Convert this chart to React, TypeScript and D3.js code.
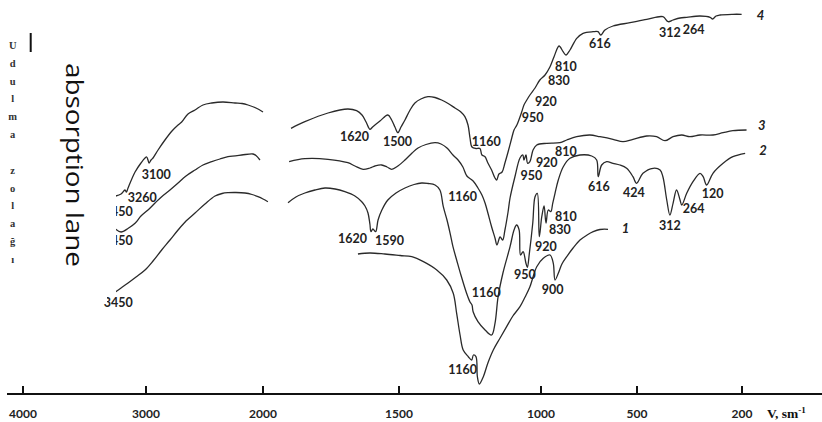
import React from 'react';
import * as d3 from 'd3';

// x axis of the spectrum is drawn with a broken (piecewise) scale
const tickWaves = [4000, 3000, 2000, 1500, 1000, 500, 200];

// [wavenumber, transmission (arb. units)]
const curve4Left = [
  [3246, 19.8], [3203, 20.0], [3171, 20.4], [3159, 20.2], [3146, 20.6], [3089, 22.2], [3041, 23.1],
  [3008, 23.6], [2994, 23.7], [2983, 23.4], [2974, 23.1], [2957, 23.4], [2940, 23.6], [2897, 24.4],
  [2838, 25.4], [2778, 26.3], [2726, 26.9], [2695, 27.2], [2641, 28.0], [2581, 28.4], [2513, 28.9],
  [2438, 29.1], [2342, 29.2], [2239, 29.1], [2179, 29.05], [2128, 28.9], [2060, 28.6], [2000, 28.2],
];
const curve4Right = [
  [1897, 26.57], [1846, 27.23], [1761, 28.1], [1688, 28.5], [1656, 28.33], [1636, 27.9], [1621, 27.2],
  [1607, 26.47], [1596, 26.73], [1570, 27.3], [1541, 27.9], [1527, 27.4], [1515, 26.7], [1504, 26.13],
  [1493, 26.7], [1479, 27.4], [1461, 28.4], [1444, 29.1], [1423, 29.5], [1398, 29.73], [1373, 29.65],
  [1350, 29.4], [1327, 29.05], [1303, 28.6], [1282, 28.2], [1268, 27.73], [1257, 26.9], [1250, 25.6],
  [1243, 24.7], [1229, 24.55], [1215, 24.55], [1208, 23.9], [1197, 23.73], [1187, 23.1], [1174, 22.4],
  [1162, 21.6], [1156, 21.4], [1148, 22.0], [1137, 22.2], [1127, 23.1], [1116, 24.2], [1103, 25.6],
  [1095, 26.4], [1085, 26.9], [1068, 28.2], [1060, 28.9], [1050, 29.4], [1039, 29.9], [1021, 30.6],
  [1004, 31.4], [979, 31.9], [953, 32.73], [932, 33.73], [906, 34.8], [885, 34.23], [870, 33.9],
  [849, 34.4], [814, 35.57], [781, 36.07], [729, 36.23], [703, 36.23], [689, 35.9], [667, 36.4],
  [625, 36.8], [536, 37.13], [472, 37.47], [426, 37.73], [411, 37.23], [397, 37.4], [377, 37.6],
  [358, 37.67], [320, 37.8], [291, 37.67], [284, 37.5], [274, 37.8], [263, 37.9], [226, 37.97], [201, 37.97],
];

const curve3Left = [
  [3246, 16.47], [3203, 16.2], [3144, 16.57], [3089, 17.07], [3041, 17.8], [2983, 18.4], [2923, 19.1],
  [2866, 19.73], [2795, 20.4], [2726, 21.1], [2658, 21.8], [2581, 22.4], [2513, 22.9], [2438, 23.23],
  [2368, 23.5], [2299, 23.73], [2182, 23.9], [2085, 24.0], [2060, 23.85], [2026, 23.4],
];
const curve3Right = [
  [1904, 23.23], [1846, 23.53], [1761, 23.47], [1688, 23.13], [1662, 22.8], [1632, 22.47], [1607, 22.6],
  [1588, 22.8], [1564, 22.9], [1544, 22.7], [1527, 22.47], [1504, 22.8], [1479, 23.4], [1454, 24.1],
  [1433, 24.6], [1405, 24.95], [1373, 25.13], [1352, 25.0], [1331, 24.6], [1310, 23.9], [1292, 23.4],
  [1275, 22.7], [1261, 21.8], [1239, 21.3], [1222, 20.6], [1208, 19.9], [1197, 19.1], [1187, 18.1],
  [1174, 16.73], [1162, 15.6], [1155, 14.9], [1144, 15.7], [1135, 15.4], [1127, 16.4], [1116, 18.2],
  [1109, 19.6], [1092, 21.7], [1074, 23.6], [1064, 23.9], [1060, 23.4], [1053, 23.9], [1047, 23.07],
  [1039, 23.23], [1028, 24.4], [1015, 24.9], [970, 25.07], [901, 25.13], [866, 25.4], [814, 25.73],
  [745, 25.9], [693, 25.73], [625, 25.47], [573, 25.23], [521, 25.47], [472, 25.8], [444, 25.73],
  [420, 25.33], [397, 25.73], [372, 25.9], [349, 25.73], [320, 25.9], [283, 25.9], [254, 26.13],
  [226, 26.33], [187, 26.4],
];

const curve2Left = [
  [3246, 10.23], [3203, 10.6], [3146, 11.1], [3081, 11.7], [3008, 12.4], [2940, 13.3], [2866, 14.4],
  [2795, 15.4], [2726, 16.4], [2658, 17.3], [2581, 18.1], [2496, 19.0], [2410, 19.8], [2350, 20.05],
  [2299, 20.13], [2231, 20.15], [2154, 20.1], [2094, 19.95], [2043, 19.73], [2000, 19.5], [1982, 19.23],
];
const curve2Right = [
  [1908, 19.13], [1879, 19.7], [1846, 20.1], [1809, 20.4], [1772, 20.6], [1735, 20.5], [1699, 20.23],
  [1662, 19.8], [1637, 19.23], [1625, 18.8], [1614, 18.1], [1607, 17.0], [1603, 16.23], [1596, 16.5],
  [1586, 16.23], [1577, 17.4], [1563, 18.4], [1541, 19.4], [1511, 20.1], [1479, 20.6], [1447, 20.95],
  [1420, 21.1], [1398, 21.05], [1373, 20.9], [1356, 20.4], [1344, 18.73], [1331, 17.4], [1320, 16.07],
  [1310, 14.73], [1297, 13.4], [1282, 11.9], [1262, 10.07], [1250, 9.2], [1243, 8.9], [1239, 8.23],
  [1222, 7.23], [1197, 6.4], [1174, 5.9], [1162, 7.07], [1151, 9.73], [1134, 12.1], [1109, 14.73],
  [1095, 16.4], [1086, 16.9], [1077, 16.4], [1072, 13.9], [1063, 14.23], [1053, 13.07], [1048, 12.67],
  [1041, 14.07], [1029, 17.1], [1021, 19.73], [1013, 20.07], [1006, 15.73], [996, 17.73], [984, 18.8],
  [974, 17.1], [962, 18.4], [949, 18.23], [939, 19.07], [927, 20.07], [910, 21.4], [884, 22.73],
  [849, 23.57], [797, 23.9], [736, 23.8], [710, 23.4], [702, 21.73], [684, 22.9], [658, 23.23],
  [625, 23.07], [589, 22.9], [554, 22.57], [521, 21.73], [502, 21.07], [483, 22.07], [454, 22.57],
  [434, 22.4], [426, 21.73], [415, 19.4], [406, 17.9], [397, 19.07], [387, 20.4], [377, 19.4],
  [372, 18.9], [358, 20.07], [340, 21.23], [320, 22.07], [311, 21.73], [301, 20.9], [283, 22.07],
  [254, 23.07], [226, 23.73], [191, 24.07],
];

const curve1 = [
  [1651, 14.0], [1607, 14.1], [1552, 14.0], [1496, 13.85], [1455, 13.73], [1414, 13.23], [1367, 12.4],
  [1332, 11.4], [1309, 10.07], [1297, 8.07], [1285, 5.9], [1274, 4.4], [1256, 3.73], [1244, 3.4],
  [1238, 3.9], [1229, 3.73], [1224, 1.73], [1217, 1.0], [1203, 1.73], [1187, 3.1], [1168, 4.4],
  [1144, 5.6], [1121, 6.73], [1099, 7.8], [1074, 8.73], [1056, 9.7], [1039, 10.73], [1015, 12.73],
  [988, 13.57], [953, 13.9], [936, 13.07], [927, 11.4], [910, 12.07], [891, 13.0], [866, 13.73],
  [833, 14.6], [797, 15.4], [760, 15.9], [728, 16.23], [693, 16.45], [651, 16.47],
];

// peak labels: [text, wavenumber, value] – anchor of the label's left baseline
const labels4 = [
  ['3450', 3344, 17.83], ['3260', 3149, 19.23], ['3100', 3035, 21.5], ['1620', 1717, 25.33],
  ['1500', 1559, 24.83], ['1160', 1244, 24.83], ['950', 1068, 27.17], ['920', 1021, 28.8],
  ['830', 964, 30.9], ['810', 927, 32.33], ['616', 750, 34.57], ['312', 437, 35.67], ['264', 369, 36.0],
];
const labels3 = [
  ['3450', 3344, 14.9], ['1160', 1327, 19.33], ['950', 1072, 21.4], ['920', 1018, 22.75], ['810', 927, 23.8],
];
const labels2 = [
  ['3450', 3344, 8.73], ['1620', 1724, 15.1], ['1590', 1588, 14.9], ['1160', 1244, 9.67],
  ['950', 1095, 11.5], ['920', 1021, 14.33], ['830', 958, 16.0], ['810', 927, 17.33],
  ['616', 755, 20.33], ['424', 573, 19.73], ['312', 437, 16.4], ['264', 369, 18.07], ['120', 315, 19.57],
];
const labels1 = [['1160', 1327, 2.0], ['900', 996, 10.0]];

// curve numbers: [text, wavenumber, value]
const curveNames = [['4', 158, 37.4], ['3', 154, 26.4], ['2', 151, 23.9], ['1', 580, 16.1]];

const yTitle = 'Udulma zolağı';

export default function App() {
  const width = 822;
  const height = 422;
  const axisY = 394;

  const x = d3.scaleLinear()
    .domain(tickWaves)
    .range([23, 146, 263, 399, 541, 637, 742]);
  const y = d3.scaleLinear().domain([0, 38.4]).range([axisY, 10]);

  const line = d3.line()
    .x(d => x(d[0]))
    .y(d => y(d[1]))
    .curve(d3.curveCatmullRom.alpha(0.5));

  const segments = [curve4Left, curve4Right, curve3Left, curve3Right, curve2Left, curve2Right, curve1];
  const allLabels = [...labels4, ...labels3, ...labels2, ...labels1];

  const labelFont = { fontFamily: 'Lato, "Open Sans", sans-serif', fontWeight: 700, fontSize: 12.5, fill: '#222' };

  // letters of the vertical title, one under another
  let ly = 49;
  const letterPos = yTitle.split('').map(ch => {
    const p = ly;
    ly += ch === ' ' ? 18 : 17.8;
    return { ch, p };
  });

  return (
    <svg width={width} height={height} style={{ position: 'absolute', left: 0, top: 0, background: '#fff' }}>
      <rect width={width} height={height} fill="#fff" />
      {segments.map((s, i) => (
        <path key={i} d={line(s)} fill="none" stroke="#2a2a2a" strokeWidth={1.3} />
      ))}
      {allLabels.map((l, i) => (
        <text key={i} x={x(l[1])} y={y(l[2])} {...labelFont}>{l[0]}</text>
      ))}
      {curveNames.map((c, i) => (
        <text key={i} x={x(c[1])} y={y(c[2])} fontFamily="Lato, sans-serif" fontStyle="italic"
          fontWeight={700} fontSize={13} fill="#222">{c[0]}</text>
      ))}

      {/* pasted title box covers the left ends */}
      <rect x={0} y={0} width={116} height={297} fill="#fff" />
      <rect x={0} y={297} width={107} height={6} fill="#fff" />
      <line x1={30.7} x2={30.7} y1={33} y2={52} stroke="#111" strokeWidth={2} />
      {letterPos.map((l, i) => l.ch === ' ' ? null : (
        <text key={i} x={12.7} y={l.p} textAnchor="middle"
          fontFamily='"Liberation Serif", "DejaVu Serif", serif' fontWeight={700} fontSize={10.5} fill="#333">{l.ch}</text>
      ))}
      <text transform="translate(66,63) rotate(90)" fontFamily='"Open Sans", sans-serif' fontSize={23}
        textLength={204} lengthAdjust="spacingAndGlyphs" fill="#111">absorption lane</text>

      {/* x axis */}
      <line x1={7} x2={822} y1={axisY} y2={axisY} stroke="#111" strokeWidth={2} />
      {tickWaves.map(t => (
        <g key={t}>
          <line x1={x(t)} x2={x(t)} y1={axisY - 8} y2={axisY} stroke="#111" strokeWidth={2} />
          <text x={x(t)} y={418} textAnchor="middle" {...labelFont} fontSize={12}>{t}</text>
        </g>
      ))}
      <text x={767} y={418} fontFamily='"Liberation Serif", serif' fontWeight={700} fontSize={13.5} fill="#111">
        V, sm<tspan dy={-5} fontSize={9}>-1</tspan>
      </text>
    </svg>
  );
}
